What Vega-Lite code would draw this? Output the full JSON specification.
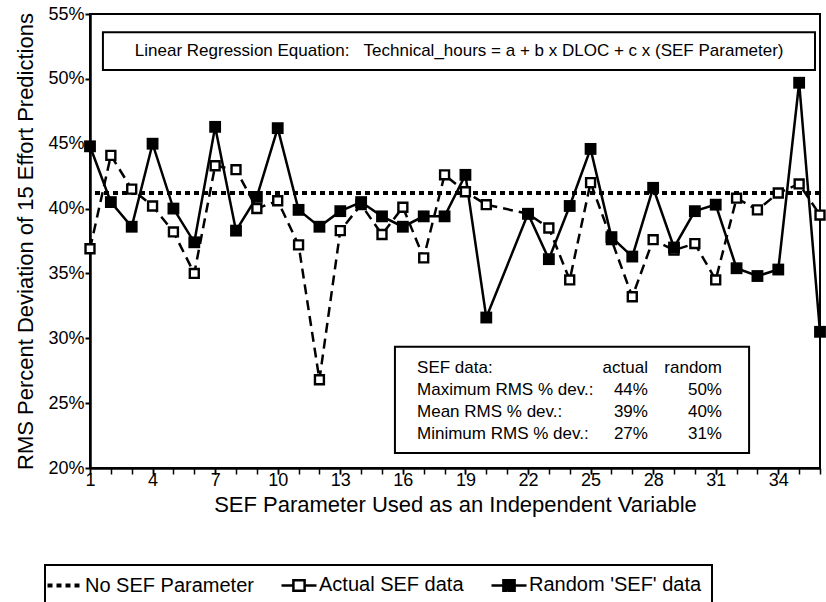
{
  "$schema": "https://vega.github.io/schema/vega-lite/v6.json",
  "width": 730,
  "height": 454,
  "autosize": {"type": "none"},
  "padding": {"left": 90, "top": 14, "right": 6, "bottom": 134},
  "background": "white",
  "config": {
    "font": "Liberation Sans",
    "view": {"stroke": "black", "strokeWidth": 2},
    "axis": {"labelColor": "black", "titleColor": "black", "domainColor": "black", "tickColor": "black", "grid": false, "labelFont": "Liberation Sans", "titleFont": "Liberation Sans", "titleFontWeight": "normal"},
    "axisX": {"labelOverlap": false, "labelFlush": false}
  },
  "resolve": {"axis": {"x": "independent"}},
  "datasets": {
    "points": [
      {"sef": 1, "series": "Actual SEF data", "rms": 36.9},
      {"sef": 2, "series": "Actual SEF data", "rms": 44.1},
      {"sef": 3, "series": "Actual SEF data", "rms": 41.5},
      {"sef": 4, "series": "Actual SEF data", "rms": 40.2},
      {"sef": 5, "series": "Actual SEF data", "rms": 38.2},
      {"sef": 6, "series": "Actual SEF data", "rms": 35.0},
      {"sef": 7, "series": "Actual SEF data", "rms": 43.3},
      {"sef": 8, "series": "Actual SEF data", "rms": 43.0},
      {"sef": 9, "series": "Actual SEF data", "rms": 40.0},
      {"sef": 10, "series": "Actual SEF data", "rms": 40.6},
      {"sef": 11, "series": "Actual SEF data", "rms": 37.2},
      {"sef": 12, "series": "Actual SEF data", "rms": 26.8},
      {"sef": 13, "series": "Actual SEF data", "rms": 38.3},
      {"sef": 14, "series": "Actual SEF data", "rms": 40.3},
      {"sef": 15, "series": "Actual SEF data", "rms": 38.0},
      {"sef": 16, "series": "Actual SEF data", "rms": 40.1},
      {"sef": 17, "series": "Actual SEF data", "rms": 36.2},
      {"sef": 18, "series": "Actual SEF data", "rms": 42.6},
      {"sef": 19, "series": "Actual SEF data", "rms": 41.3},
      {"sef": 20, "series": "Actual SEF data", "rms": 40.3},
      {"sef": 22, "series": "Actual SEF data", "rms": 39.6},
      {"sef": 23, "series": "Actual SEF data", "rms": 38.5},
      {"sef": 24, "series": "Actual SEF data", "rms": 34.5},
      {"sef": 25, "series": "Actual SEF data", "rms": 42.0},
      {"sef": 26, "series": "Actual SEF data", "rms": 37.6},
      {"sef": 27, "series": "Actual SEF data", "rms": 33.2},
      {"sef": 28, "series": "Actual SEF data", "rms": 37.6},
      {"sef": 29, "series": "Actual SEF data", "rms": 36.8},
      {"sef": 30, "series": "Actual SEF data", "rms": 37.3},
      {"sef": 31, "series": "Actual SEF data", "rms": 34.5},
      {"sef": 32, "series": "Actual SEF data", "rms": 40.8},
      {"sef": 33, "series": "Actual SEF data", "rms": 39.9},
      {"sef": 34, "series": "Actual SEF data", "rms": 41.2},
      {"sef": 35, "series": "Actual SEF data", "rms": 41.9},
      {"sef": 36, "series": "Actual SEF data", "rms": 39.5},
      {"sef": 1, "series": "Random 'SEF' data", "rms": 44.8},
      {"sef": 2, "series": "Random 'SEF' data", "rms": 40.5},
      {"sef": 3, "series": "Random 'SEF' data", "rms": 38.6},
      {"sef": 4, "series": "Random 'SEF' data", "rms": 45.0},
      {"sef": 5, "series": "Random 'SEF' data", "rms": 40.0},
      {"sef": 6, "series": "Random 'SEF' data", "rms": 37.4},
      {"sef": 7, "series": "Random 'SEF' data", "rms": 46.3},
      {"sef": 8, "series": "Random 'SEF' data", "rms": 38.3},
      {"sef": 9, "series": "Random 'SEF' data", "rms": 40.9},
      {"sef": 10, "series": "Random 'SEF' data", "rms": 46.2},
      {"sef": 11, "series": "Random 'SEF' data", "rms": 39.9},
      {"sef": 12, "series": "Random 'SEF' data", "rms": 38.6},
      {"sef": 13, "series": "Random 'SEF' data", "rms": 39.8},
      {"sef": 14, "series": "Random 'SEF' data", "rms": 40.5},
      {"sef": 15, "series": "Random 'SEF' data", "rms": 39.4},
      {"sef": 16, "series": "Random 'SEF' data", "rms": 38.6},
      {"sef": 17, "series": "Random 'SEF' data", "rms": 39.4},
      {"sef": 18, "series": "Random 'SEF' data", "rms": 39.4},
      {"sef": 19, "series": "Random 'SEF' data", "rms": 42.6},
      {"sef": 20, "series": "Random 'SEF' data", "rms": 31.6},
      {"sef": 22, "series": "Random 'SEF' data", "rms": 39.6},
      {"sef": 23, "series": "Random 'SEF' data", "rms": 36.1},
      {"sef": 24, "series": "Random 'SEF' data", "rms": 40.2},
      {"sef": 25, "series": "Random 'SEF' data", "rms": 44.6},
      {"sef": 26, "series": "Random 'SEF' data", "rms": 37.8},
      {"sef": 27, "series": "Random 'SEF' data", "rms": 36.3},
      {"sef": 28, "series": "Random 'SEF' data", "rms": 41.6},
      {"sef": 29, "series": "Random 'SEF' data", "rms": 37.0},
      {"sef": 30, "series": "Random 'SEF' data", "rms": 39.8},
      {"sef": 31, "series": "Random 'SEF' data", "rms": 40.3},
      {"sef": 32, "series": "Random 'SEF' data", "rms": 35.4},
      {"sef": 33, "series": "Random 'SEF' data", "rms": 34.8},
      {"sef": 34, "series": "Random 'SEF' data", "rms": 35.3},
      {"sef": 35, "series": "Random 'SEF' data", "rms": 49.7},
      {"sef": 36, "series": "Random 'SEF' data", "rms": 30.5}
    ],
    "baseline": [
      {"series": "No SEF Parameter", "rms": 41.2}
    ]
  },
  "layer": [
    {
      "data": {"name": "baseline"},
      "mark": {"type": "rule", "strokeWidth": 4, "strokeCap": "butt", "strokeDash": [5, 4]},
      "encoding": {
        "y": {
          "field": "rms", "type": "quantitative",
          "scale": {"domain": [20, 55], "nice": false, "zero": false},
          "axis": {
            "values": [20, 25, 30, 35, 40, 45, 50, 55],
            "labelExpr": "datum.value + '%'",
            "labelFontSize": 18,
            "labelPadding": 1,
            "tickSize": 5,
            "tickWidth": 2,
            "domainWidth": 2.5,
            "title": "RMS Percent Deviation of 15 Effort Predictions",
            "titleFontSize": 22,
            "titleBaseline": "alphabetic",
            "titleX": -58
          }
        },
        "color": {
          "field": "series", "type": "nominal",
          "scale": {"domain": ["No SEF Parameter", "Actual SEF data", "Random 'SEF' data"], "range": ["black", "black", "black"]},
          "legend": {
            "orient": "none",
            "legendX": -45,
            "legendY": 551,
            "direction": "horizontal",
            "title": null,
            "labelFontSize": 20,
            "labelColor": "black",
            "labelFont": "Liberation Sans",
            "labelLimit": 400,
            "symbolSize": 1225,
            "symbolStrokeWidth": 2.5,
            "symbolStrokeColor": "black",
            "labelOffset": 10,
            "columnPadding": 22,
            "padding": 10,
            "strokeColor": "black",
            "encode": {
              "legend": {"update": {"strokeWidth": {"value": 2}}},
              "symbols": {
                "update": {
                  "shape": {"signal": "datum.value === 'No SEF Parameter' ? 'M-1,0H1' : 'M-1,0H-0.32M0.32,0H1M-0.32,-0.3H0.32V0.3H-0.32Z'"},
                  "fill": {"signal": "(datum.value !== 'No SEF Parameter' && datum.value !== 'Actual SEF data') ? 'black' : 'white'"},
                  "stroke": {"value": "black"},
                  "strokeDash": {"signal": "datum.value === 'No SEF Parameter' ? [5, 4] : [1, 0]"},
                  "strokeWidth": {"signal": "datum.value === 'No SEF Parameter' ? 4 : 2.5"},
                  "opacity": {"value": 1},
                  "fillOpacity": {"value": 1}
                }
              }
            }
          }
        }
      }
    },
    {
      "data": {"name": "points"},
      "transform": [{"filter": "datum.series === 'Actual SEF data'"}],
      "mark": {"type": "line", "strokeWidth": 2.5, "strokeDash": [10, 6]},
      "encoding": {
        "x": {
          "field": "sef", "type": "quantitative",
          "scale": {"domain": [1, 36], "nice": false, "zero": false},
          "axis": {
            "orient": "bottom",
            "values": [1, 4, 7, 10, 13, 16, 19, 22, 25, 28, 31, 34],
            "labelFontSize": 18,
            "labelPadding": -3,
            "labelFlush": false,
            "labelOverlap": false,
            "tickSize": 6,
            "tickWidth": 1.5,
            "domainWidth": 2.5,
            "title": "SEF Parameter Used as an Independent Variable",
            "titleFontSize": 22,
            "titleBaseline": "alphabetic",
            "titleY": 43
          }
        },
        "y": {"field": "rms", "type": "quantitative"},
        "color": {"field": "series", "type": "nominal"}
      }
    },
    {
      "data": {"name": "points"},
      "transform": [{"filter": "datum.series !== 'Actual SEF data'"}],
      "mark": {"type": "line", "strokeWidth": 2.5},
      "encoding": {
        "x": {
          "field": "sef", "type": "quantitative",
          "axis": {
            "orient": "bottom",
            "values": [1,2,3,4,5,6,7,8,9,10,11,12,13,14,15,16,17,18,19,20,21,22,23,24,25,26,27,28,29,30,31,32,33,34,35,36],
            "labels": false,
            "domain": false,
            "title": null,
            "tickSize": 6,
            "tickWidth": 1.5
          }
        },
        "y": {"field": "rms", "type": "quantitative"},
        "color": {"field": "series", "type": "nominal"}
      }
    },
    {
      "data": {"name": "points"},
      "transform": [{"filter": "datum.series === 'Actual SEF data'"}],
      "mark": {"type": "point", "shape": "square", "size": 80, "filled": true, "fill": "white", "stroke": "black", "strokeWidth": 2.4, "opacity": 1},
      "encoding": {
        "x": {"field": "sef", "type": "quantitative", "axis": null},
        "y": {"field": "rms", "type": "quantitative"}
      }
    },
    {
      "data": {"name": "points"},
      "transform": [{"filter": "datum.series !== 'Actual SEF data'"}],
      "mark": {"type": "point", "shape": "square", "size": 140, "filled": true, "color": "black", "opacity": 1},
      "encoding": {
        "x": {"field": "sef", "type": "quantitative", "axis": null},
        "y": {"field": "rms", "type": "quantitative"}
      }
    },
    {
      "data": {"values": [{}]},
      "mark": {"type": "rect", "fill": "white", "stroke": "black", "strokeWidth": 2},
      "encoding": {
        "x": {"datum": 1.62, "type": "quantitative", "axis": null},
        "x2": {"datum": 35.76},
        "y": {"datum": 53.6, "type": "quantitative"},
        "y2": {"datum": 50.68}
      }
    },
    {
      "data": {"values": [{}]},
      "mark": {"type": "text", "text": "Linear Regression Equation:\u00a0\u00a0\u00a0Technical_hours = a + b x DLOC + c x (SEF Parameter)", "align": "center", "baseline": "middle", "fontSize": 17, "color": "black", "font": "Liberation Sans"},
      "encoding": {
        "x": {"datum": 18.7, "type": "quantitative", "axis": null},
        "y": {"datum": 52.15, "type": "quantitative"}
      }
    },
    {
      "data": {"values": [{}]},
      "mark": {"type": "rect", "fill": "white", "stroke": "black", "strokeWidth": 2},
      "encoding": {
        "x": {"datum": 15.62, "type": "quantitative", "axis": null},
        "x2": {"datum": 32.6},
        "y": {"datum": 29.35, "type": "quantitative"},
        "y2": {"datum": 21.15}
      }
    },
    {
      "data": {"values": [{}]},
      "mark": {"type": "text", "text": ["SEF data:", "Maximum RMS % dev.:", "Mean RMS % dev.:", "Minimum RMS % dev.:"], "align": "left", "baseline": "middle", "lineHeight": 22, "fontSize": 17, "color": "black", "font": "Liberation Sans"},
      "encoding": {
        "x": {"datum": 16.68, "type": "quantitative", "axis": null},
        "y": {"datum": 27.71, "type": "quantitative"}
      }
    },
    {
      "data": {"values": [{}]},
      "mark": {"type": "text", "text": ["actual", "44%", "39%", "27%"], "align": "right", "baseline": "middle", "lineHeight": 22, "fontSize": 17, "color": "black", "font": "Liberation Sans"},
      "encoding": {
        "x": {"datum": 27.75, "type": "quantitative", "axis": null},
        "y": {"datum": 27.71, "type": "quantitative"}
      }
    },
    {
      "data": {"values": [{}]},
      "mark": {"type": "text", "text": ["random", "50%", "40%", "31%"], "align": "right", "baseline": "middle", "lineHeight": 22, "fontSize": 17, "color": "black", "font": "Liberation Sans"},
      "encoding": {
        "x": {"datum": 31.3, "type": "quantitative", "axis": null},
        "y": {"datum": 27.71, "type": "quantitative"}
      }
    }
  ]
}
